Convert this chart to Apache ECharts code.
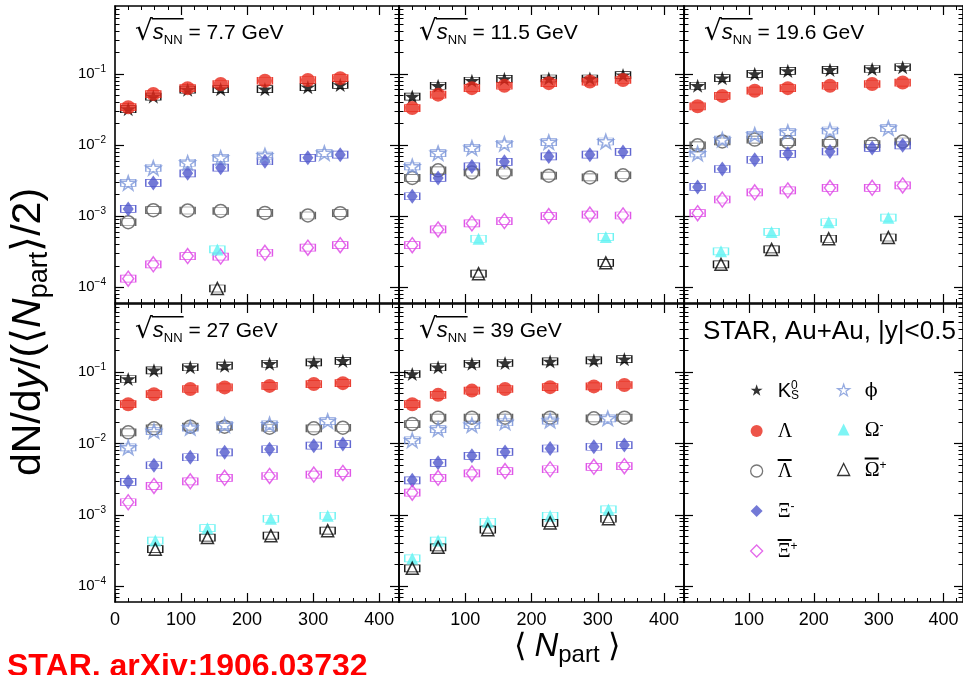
<!DOCTYPE html>
<html><head><meta charset="utf-8">
<script src="https://cdn.jsdelivr.net/npm/echarts@6/dist/echarts.min.js"></script>
<style>html,body{margin:0;padding:0;background:#fff}#c{width:963px;height:675px}</style>
</head><body><div id="c"></div>
<script>
// ---------------- DATA ----------------
const energies = ['7.7', '11.5', '19.6', '27', '39'];
// Npart for the 7 standard centrality bins (K0S, Lambda, Xi)
const npartStd = [
  [20, 58, 110, 160, 227, 292, 341],
  [20, 59, 110, 159, 226, 288, 338],
  [21, 59, 109, 160, 225, 290, 337],
  [20, 59, 114, 166, 234, 301, 345],
  [20, 59, 110, 160, 228, 294, 340]
];
// Npart for phi bins
const npartPhi = [
  [20, 58, 110, 160, 227, 317],
  [20, 59, 110, 159, 226, 312],
  [21, 59, 109, 160, 225, 315],
  [20, 59, 114, 166, 234, 322],
  [20, 59, 110, 160, 228, 315]
];
// Npart for Omega bins
const npartOmega = [
  [155],
  [120, 312],
  [57, 135, 223, 315],
  [61, 140, 236, 322],
  [20, 59, 134, 228, 316]
];
const k0s = [
  [0.032, 0.048, 0.060, 0.061, 0.061, 0.065, 0.070],
  [0.048, 0.068, 0.080, 0.085, 0.086, 0.086, 0.096],
  [0.068, 0.087, 0.100, 0.110, 0.114, 0.117, 0.124],
  [0.080, 0.106, 0.117, 0.123, 0.131, 0.137, 0.144],
  [0.094, 0.117, 0.131, 0.134, 0.141, 0.146, 0.152]
];
const lambda = [
  [0.034, 0.052, 0.063, 0.072, 0.080, 0.082, 0.087],
  [0.033, 0.051, 0.063, 0.068, 0.074, 0.078, 0.082],
  [0.035, 0.049, 0.058, 0.063, 0.068, 0.072, 0.0755],
  [0.0355, 0.049, 0.058, 0.061, 0.064, 0.068, 0.070],
  [0.0355, 0.048, 0.055, 0.058, 0.0615, 0.063, 0.066]
];
const lambdaBar = [
  [0.00082, 0.00121, 0.0012, 0.00118, 0.00111, 0.00102, 0.0011],
  [0.00344, 0.0044, 0.0041, 0.0041, 0.0037, 0.0035, 0.00375],
  [0.0099, 0.0112, 0.0119, 0.011, 0.0107, 0.0103, 0.0112],
  [0.0143, 0.0163, 0.0172, 0.0172, 0.0166, 0.0163, 0.0166],
  [0.0187, 0.023, 0.023, 0.023, 0.023, 0.0225, 0.023]
];
const xiMinus = [
  [0.00126, 0.00293, 0.0040, 0.0048, 0.0059, 0.0066, 0.0073],
  [0.0019, 0.00344, 0.0050, 0.0058, 0.0069, 0.0073, 0.0080],
  [0.00257, 0.0046, 0.0062, 0.0075, 0.0081, 0.0091, 0.0099],
  [0.0029, 0.00495, 0.0064, 0.0075, 0.0083, 0.0093, 0.0098],
  [0.00304, 0.00535, 0.0067, 0.0076, 0.0085, 0.0090, 0.0095]
];
const xiPlusBar = [
  [0.000132, 0.00021, 0.000274, 0.00027, 0.000305, 0.00036, 0.00039],
  [0.00039, 0.00065, 0.00079, 0.00085, 0.0010, 0.00105, 0.00102],
  [0.0011, 0.00171, 0.00216, 0.0023, 0.0025, 0.0025, 0.0027],
  [0.0015, 0.00254, 0.00295, 0.0033, 0.0035, 0.00366, 0.00386],
  [0.00204, 0.0033, 0.0038, 0.0041, 0.00435, 0.0047, 0.0048]
];
const phi = [
  [0.00293, 0.00475, 0.00562, 0.0066, 0.0071, 0.0077],
  [0.0050, 0.0077, 0.0091, 0.0104, 0.0110, 0.0112],
  [0.0076, 0.0119, 0.0139, 0.0152, 0.0160, 0.0173],
  [0.0088, 0.0149, 0.0166, 0.0181, 0.0185, 0.0206],
  [0.0111, 0.0159, 0.0181, 0.0198, 0.0209, 0.0225]
];
const omegaMinus = [
  [0.00034],
  [0.00048, 0.00051],
  [0.00032, 0.0006, 0.00082, 0.00095],
  [0.000435, 0.00065, 0.00088, 0.00097],
  [0.000245, 0.000435, 0.0008, 0.00097, 0.00119]
];
const omegaPlusBar = [
  [0.000096],
  [0.000155, 0.00022],
  [0.00021, 0.00034, 0.00048, 0.0005],
  [0.00033, 0.00048, 0.00051, 0.0006],
  [0.000178, 0.00035, 0.00062, 0.00077, 0.00088]
];
const xTickLabels = [0, 100, 200, 300, 400];
const yTickLabels = [1e-4, 1e-3, 1e-2, 1e-1];

// ---------------- STYLE ----------------
const STAR = 'path://M50,2 L61.8,36.2 L97.6,36.2 L68.6,57.6 L79.4,92 L50,71 L20.6,92 L31.4,57.6 L2.4,36.2 L38.2,36.2 Z';
const species = [
  {name: 'K0S', data: k0s, x: npartStd, symbol: STAR, size: 15, color: '#000000', open: false},
  {name: 'Lambda', data: lambda, x: npartStd, symbol: 'circle', size: 14, color: '#e8291c', open: false},
  {name: 'LambdaBar', data: lambdaBar, x: npartStd, symbol: 'circle', size: 13, color: '#555555', open: true},
  {name: 'Xi', data: xiMinus, x: npartStd, symbol: 'diamond', size: [11, 15], color: '#5057cc', open: false},
  {name: 'XiBar', data: xiPlusBar, x: npartStd, symbol: 'diamond', size: [11, 15], color: '#dd44e6', open: true},
  {name: 'phi', data: phi, x: npartPhi, symbol: STAR, size: 15, color: '#7d97da', open: true},
  {name: 'Omega', data: omegaMinus, x: npartOmega, symbol: 'triangle', size: 12, color: '#5ef2f2', open: false},
  {name: 'OmegaBar', data: omegaPlusBar, x: npartOmega, symbol: 'triangle', size: 12, color: '#000000', open: true}
];

const colLeft = [115, 399, 684];
const colWidth = [284, 285, 285];
const rowTop = [6, 304];
const rowHeight = [297, 298];
const XMAX = 430, YMIN = 6e-5, YMAX = 0.9;
const FONT = 'Liberation Sans, Arial, Helvetica, sans-serif';
const SERIF = 'Liberation Serif, Times New Roman, serif';

const measureCtx = document.createElement('canvas').getContext('2d');
function textW(txt, font) { measureCtx.font = font; return measureCtx.measureText(txt).width; }

const minorX = [];
for (let v = 20; v < XMAX; v += 20) if (v % 100 !== 0) minorX.push(v);
const minorY = [];
for (let e = -5; e <= -1; e++) for (let m = 2; m <= 9; m++) {
  const v = +(m * Math.pow(10, e)).toPrecision(3);
  if (v > YMIN * 1.01 && v < YMAX * 0.99) minorY.push(v);
}

const grids = [], xAxes = [], yAxes = [];
const lineStyle = {color: '#000', width: 1.6};
for (let i = 0; i < 6; i++) {
  const r = Math.floor(i / 3), c = i % 3;
  grids.push({left: colLeft[c], top: rowTop[r], width: colWidth[c], height: rowHeight[r], containLabel: false});
  const baseX = {gridIndex: i, type: 'value', min: 0, max: XMAX, splitLine: {show: false}};
  xAxes.push(Object.assign({}, baseX, {
    position: 'bottom',
    axisLine: {show: true, onZero: false, lineStyle},
    axisTick: {show: true, inside: true, length: 9, customValues: xTickLabels, lineStyle: {color: '#000', width: 1.2}},
    axisLabel: {show: r === 1, customValues: c === 0 ? xTickLabels : xTickLabels.slice(1), fontSize: 18, color: '#000', margin: 9, fontFamily: FONT}
  }));
  xAxes.push(Object.assign({}, baseX, {
    position: 'bottom', axisLine: {show: false, onZero: false},
    axisTick: {show: true, inside: true, length: 4, customValues: minorX, lineStyle: {color: '#000', width: 1}},
    axisLabel: {show: false}
  }));
  xAxes.push(Object.assign({}, baseX, {
    position: 'top', axisLine: {show: true, onZero: false, lineStyle},
    axisTick: {show: true, inside: true, length: 9, customValues: xTickLabels, lineStyle: {color: '#000', width: 1.2}},
    axisLabel: {show: false}
  }));
  xAxes.push(Object.assign({}, baseX, {
    position: 'top', axisLine: {show: false, onZero: false},
    axisTick: {show: true, inside: true, length: 4, customValues: minorX, lineStyle: {color: '#000', width: 1}},
    axisLabel: {show: false}
  }));
  const baseY = {gridIndex: i, type: 'log', logBase: 10, min: YMIN, max: YMAX, splitLine: {show: false}};
  yAxes.push(Object.assign({}, baseY, {
    position: 'left', axisLine: {show: true, onZero: false, lineStyle},
    axisTick: {show: true, inside: true, length: 9, customValues: yTickLabels, lineStyle: {color: '#000', width: 1.2}},
    axisLabel: {
      show: c === 0, customValues: yTickLabels, margin: 9,
      formatter: v => '{b|10}{s|\u2212' + (-Math.round(Math.log10(v))) + '}',
      rich: {
        b: {fontSize: 15, fontFamily: FONT, color: '#000', lineHeight: 20},
        s: {fontSize: 10, fontFamily: FONT, color: '#000', verticalAlign: 'top', lineHeight: 12}
      }
    }
  }));
  yAxes.push(Object.assign({}, baseY, {
    position: 'left', axisLine: {show: false, onZero: false},
    axisTick: {show: true, inside: true, length: 4.5, customValues: minorY, lineStyle: {color: '#000', width: 1}},
    axisLabel: {show: false}
  }));
  yAxes.push(Object.assign({}, baseY, {
    position: 'right', axisLine: {show: true, onZero: false, lineStyle},
    axisTick: {show: true, inside: true, length: 9, customValues: yTickLabels, lineStyle: {color: '#000', width: 1.2}},
    axisLabel: {show: false}
  }));
  yAxes.push(Object.assign({}, baseY, {
    position: 'right', axisLine: {show: false, onZero: false},
    axisTick: {show: true, inside: true, length: 4.5, customValues: minorY, lineStyle: {color: '#000', width: 1}},
    axisLabel: {show: false}
  }));
}

const series = [];
energies.forEach((en, i) => {
  species.forEach(sp => {
    const pts = sp.x[i].map((x, k) => [x, sp.data[i][k]]);
    series.push({
      type: 'scatter', name: sp.name + '_box', xAxisIndex: 4 * i, yAxisIndex: 4 * i,
      data: pts, symbol: 'rect', symbolSize: [15, 7], silent: true, z: 2,
      itemStyle: {color: 'rgba(0,0,0,0)', borderColor: sp.color, borderWidth: 1, opacity: 0.9}
    });
    series.push({
      type: 'scatter', name: sp.name, xAxisIndex: 4 * i, yAxisIndex: 4 * i,
      data: pts, symbol: sp.symbol, symbolSize: sp.size, symbolKeepAspect: true, z: 3,
      itemStyle: sp.open
        ? {color: 'rgba(0,0,0,0)', borderColor: sp.color, borderWidth: 1.5}
        : {color: sp.color, borderWidth: 0}
    });
  });
});

// legend labels: first line = optional overbar, second line = symbol text
const GF = 20;
const legendRich = {
  bar: {width: 14, height: 2, lineHeight: 2, fontSize: 1, backgroundColor: '#000'},
  nobar: {width: 14, height: 2, lineHeight: 2, fontSize: 1, backgroundColor: 'rgba(0,0,0,0)'},
  m: {fontSize: 20, fontFamily: FONT, color: '#000', lineHeight: 22},
  g: {fontSize: GF, fontFamily: SERIF, color: '#000', lineHeight: 22},
  ph: {fontSize: 19, fontFamily: 'DejaVu Serif', color: '#000', lineHeight: 22},
  sup: {fontSize: 12, fontFamily: FONT, color: '#000', verticalAlign: 'top', lineHeight: 8},
  sup0: {fontSize: 12, fontFamily: FONT, color: '#000', verticalAlign: 'top', lineHeight: 8, width: 0.01},
  sub: {fontSize: 12, fontFamily: FONT, color: '#000', verticalAlign: 'bottom', lineHeight: 10}
};
const legendText = {
  K0S: '{nobar| }\n{m|K}{sup0|0}{sub|S}',
  Lambda: '{nobar| }\n{g|\u039B}',
  LambdaBar: '{bar| }\n{g|\u039B}',
  Xi: '{nobar| }\n{g|\u039E}{sup|-}',
  XiBar: '{bar| }\n{g|\u039E}{sup|+}',
  phi: '{nobar| }\n{ph|\u03D5}',
  Omega: '{nobar| }\n{g|\u03A9}{sup|-}',
  OmegaBar: '{bar| }\n{g|\u03A9}{sup|+}'
};
function legendItem(name) {
  const sp = species.find(s => s.name === name);
  return {
    name, icon: sp.symbol,
    itemStyle: sp.open ? {color: 'rgba(0,0,0,0)', borderColor: sp.color, borderWidth: 1.3} : {color: sp.color, borderWidth: 0}
  };
}
const legendBase = {
  orient: 'vertical', itemWidth: 12, itemHeight: 12, itemGap: 17, padding: 0,
  selectedMode: false, formatter: n => legendText[n],
  textStyle: {rich: legendRich, padding: [0, 0, 0, 10]}
};

// panel titles: sqrt(s_NN) with vinculum drawn as a bar on a first line
const rootW = textW('\u221A', '28px DejaVu Sans');
const sW = textW('s', 'italic 22px Liberation Sans') + textW('NN', '13px Liberation Sans');
const titles = energies.map((en, i) => {
  const r = Math.floor(i / 3), c = i % 3;
  return {
    text: '{gap| }{vb| }\n{r|\u221A}{s|s}{n|NN}{t| = ' + en + ' GeV}',
    left: colLeft[c] + 20, top: rowTop[r] + 12, padding: 0,
    textStyle: {fontWeight: 'normal', rich: {
      gap: {width: rootW - 1, height: 1.5, lineHeight: 1.5, fontSize: 1},
      vb: {width: sW + 2, height: 1.5, lineHeight: 1.5, fontSize: 1, backgroundColor: '#000'},
      r: {fontSize: 28, fontFamily: 'DejaVu Sans', fontWeight: 'normal', color: '#000', lineHeight: 27},
      s: {fontSize: 22, fontFamily: FONT, fontStyle: 'italic', fontWeight: 'normal', color: '#000', lineHeight: 27},
      n: {fontSize: 13, fontFamily: FONT, fontWeight: 'normal', color: '#000', verticalAlign: 'bottom', lineHeight: 9},
      t: {fontSize: 21, fontFamily: FONT, fontWeight: 'normal', color: '#000', lineHeight: 27}
    }}
  };
});
titles.push({text: 'STAR, Au+Au, |y|<0.5', left: 703, top: 319, padding: 0,
  textStyle: {fontSize: 26, fontFamily: FONT, fontWeight: 'normal', color: '#000'}});

const option = {
  animation: false,
  backgroundColor: '#fff',
  title: titles,
  grid: grids,
  xAxis: xAxes,
  yAxis: yAxes,
  legend: [
    Object.assign({}, legendBase, {left: 750, top: 378, data: ['K0S', 'Lambda', 'LambdaBar', 'Xi', 'XiBar'].map(legendItem)}),
    Object.assign({}, legendBase, {left: 837, top: 378, data: ['phi', 'Omega', 'OmegaBar'].map(legendItem)})
  ],
  series,
  graphic: [
    {type: 'text', x: 29, y: 332, rotation: Math.PI / 2, style: {
      text: '{t|dN/d}{i|y}{t|/(\u27E8}{i|N}{sub|part}{t|\u27E9/2)}',
      textAlign: 'center', textVerticalAlign: 'middle', align: 'center', verticalAlign: 'middle',
      rich: {
        t: {fontSize: 41, fontFamily: FONT, fill: '#000', lineHeight: 48},
        i: {fontSize: 41, fontFamily: FONT, fontStyle: 'italic', fill: '#000', lineHeight: 48},
        sub: {fontSize: 27, fontFamily: FONT, fill: '#000', verticalAlign: 'bottom', lineHeight: 22}
      }
    }},
    {type: 'text', x: 567, y: 647, style: {
      text: '{t|\u27E8 }{i|N}{sub|part}{t| \u27E9}',
      textAlign: 'center', textVerticalAlign: 'middle', align: 'center', verticalAlign: 'middle',
      rich: {
        t: {fontSize: 32, fontFamily: FONT, fill: '#000', lineHeight: 40},
        i: {fontSize: 33, fontFamily: FONT, fontStyle: 'italic', fill: '#000', lineHeight: 40},
        sub: {fontSize: 24, fontFamily: FONT, fill: '#000', verticalAlign: 'bottom', lineHeight: 22}
      }
    }},
    {type: 'text', x: 7, y: 667, style: {
      text: 'STAR, arXiv:1906.03732', fill: '#ff0000',
      font: 'bold 32px ' + FONT, textVerticalAlign: 'middle', verticalAlign: 'middle'
    }}
  ]
};
const chart = echarts.init(document.getElementById('c'), null, {renderer: 'canvas'});
chart.setOption(option);
</script></body></html>
